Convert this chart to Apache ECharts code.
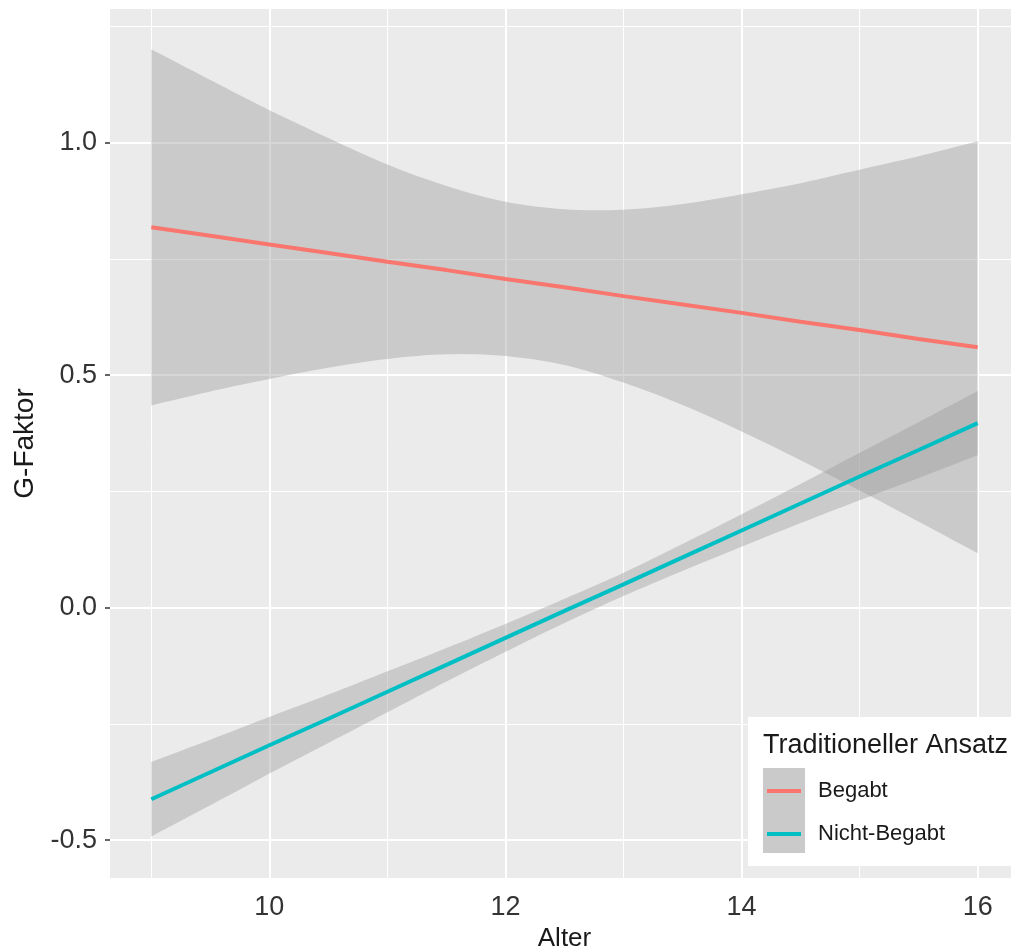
<!DOCTYPE html>
<html>
<head>
<meta charset="utf-8">
<script src="https://cdn.jsdelivr.net/npm/echarts@6/dist/echarts.min.js"></script>
<style>
html,body{margin:0;padding:0;background:#fff;}
#chart{width:1011px;height:947px;}
</style>
</head>
<body>
<div id="chart"></div>
<script>
// ---- data ----
var alter = [9, 9.5, 10, 10.5, 11, 11.5, 12, 12.5, 13, 13.5, 14, 14.5, 15, 15.5, 16];
var begabtFit   = [0.818, 0.800, 0.781, 0.763, 0.744, 0.726, 0.707, 0.689, 0.670, 0.652, 0.634, 0.615, 0.597, 0.578, 0.560];
var begabtUpper = [1.201, 1.135, 1.070, 1.010, 0.953, 0.907, 0.873, 0.857, 0.856, 0.868, 0.889, 0.913, 0.942, 0.971, 1.003];
var begabtLower = [0.435, 0.465, 0.492, 0.516, 0.535, 0.545, 0.541, 0.522, 0.484, 0.436, 0.379, 0.317, 0.252, 0.185, 0.117];
var nichtFit    = [-0.412, -0.354, -0.296, -0.239, -0.181, -0.123, -0.065, -0.007, 0.050, 0.108, 0.166, 0.224, 0.282, 0.339, 0.397];
var nichtUpper  = [-0.332, -0.284, -0.235, -0.187, -0.137, -0.087, -0.035, 0.019, 0.075, 0.137, 0.201, 0.266, 0.333, 0.399, 0.466];
var nichtLower  = [-0.492, -0.425, -0.357, -0.291, -0.225, -0.159, -0.095, -0.033, 0.025, 0.079, 0.131, 0.182, 0.231, 0.279, 0.328];
var xTicks = [10, 12, 14, 16];
var xMinor = [9, 11, 13, 15];
var yTicks = [-0.5, 0, 0.5, 1.0];
var yMinor = [-0.25, 0.25, 0.75, 1.25];
var groups = ['Begabt', 'Nicht-Begabt'];
var legendTitle = 'Traditioneller Ansatz';
var xTitle = 'Alter';
var yTitle = 'G-Faktor';

// ---- build ----
function pairs(xs, ys) { return xs.map(function (x, i) { return [x, ys[i]]; }); }
function bandRows(xs, lo, up) { return xs.map(function (x, i) { return [x, lo[i], up[i]]; }); }

var FONT = "'Liberation Sans', Arial, Helvetica, sans-serif";
var ribbonFill = 'rgba(153,153,153,0.4)';

var gridLines = [];
yTicks.forEach(function (v) { gridLines.push({ yAxis: v, lineStyle: { width: 2 } }); });
yMinor.forEach(function (v) { gridLines.push({ yAxis: v, lineStyle: { width: 1 } }); });
xTicks.forEach(function (v) { gridLines.push({ xAxis: v, lineStyle: { width: 2 } }); });
xMinor.forEach(function (v) { gridLines.push({ xAxis: v, lineStyle: { width: 1 } }); });

// smooth (Catmull-Rom) pass through pixel points, for rendering only
function smoothPts(p) {
  var out = [], n = p.length, steps = 8;
  for (var i = 0; i < n - 1; i++) {
    var p0 = p[Math.max(i - 1, 0)], p1 = p[i], p2 = p[i + 1], p3 = p[Math.min(i + 2, n - 1)];
    for (var s = 0; s < steps; s++) {
      var t = s / steps, t2 = t * t, t3 = t2 * t;
      var f = function (a, b, c, d) {
        return 0.5 * ((2 * b) + (-a + c) * t + (2 * a - 5 * b + 4 * c - d) * t2 + (-a + 3 * b - 3 * c + d) * t3);
      };
      out.push([f(p0[0], p1[0], p2[0], p3[0]), f(p0[1], p1[1], p2[1], p3[1])]);
    }
  }
  out.push(p[n - 1]);
  return out;
}
// ribbon polygon drawn through the axes (api.coord) from the band rows
function ribbonRenderer(rows) {
  return function (params, api) {
    if (params.dataIndex !== 0) return null;
    var up = [], lo = [];
    for (var i = 0; i < rows.length; i++) {
      up.push(api.coord([rows[i][0], rows[i][2]]));
      lo.push(api.coord([rows[i][0], rows[i][1]]));
    }
    var pts = smoothPts(up).concat(smoothPts(lo).reverse());
    return { type: 'polygon', shape: { points: pts }, style: { fill: ribbonFill } };
  };
}
var rowsB = bandRows(alter, begabtLower, begabtUpper);
var rowsN = bandRows(alter, nichtLower, nichtUpper);

var chart = echarts.init(document.getElementById('chart'));
var option = {
  animation: false,
  backgroundColor: '#ffffff',
  grid: {
    left: 110, top: 9, width: 909, height: 869,
    outerBoundsMode: 'none', containLabel: false,
    show: true, backgroundColor: '#EBEBEB', borderWidth: 0
  },
  xAxis: {
    type: 'value', min: 8.65, max: 16.35,
    name: xTitle, nameLocation: 'middle', nameGap: 47,
    nameTextStyle: { fontSize: 26, color: '#1a1a1a', fontFamily: FONT },
    axisLine: { show: false },
    axisTick: { show: true, customValues: xTicks, length: 5, lineStyle: { color: '#333', width: 1.5 } },
    axisLabel: { customValues: xTicks, fontSize: 27, color: '#333', fontFamily: FONT, margin: 16 },
    splitLine: { show: false }
  },
  yAxis: {
    type: 'value', min: -0.5815, max: 1.2876,
    name: yTitle, nameLocation: 'middle', nameGap: 68, nameRotate: 90,
    nameTextStyle: { fontSize: 28, color: '#1a1a1a', fontFamily: FONT },
    axisLine: { show: false },
    axisTick: { show: true, customValues: yTicks, length: 5, lineStyle: { color: '#333', width: 1.5 } },
    axisLabel: {
      customValues: yTicks, fontSize: 27, color: '#333', fontFamily: FONT, margin: 13,
      formatter: function (v) { return v.toFixed(1); }
    },
    splitLine: { show: false }
  },
  legend: {
    data: groups,
    orient: 'vertical',
    left: 767, top: 780, padding: 0,
    icon: 'rect', itemWidth: 34, itemHeight: 4, itemGap: 21,
    selectedMode: false,
    z: 6,
    textStyle: { fontSize: 22, color: '#1a1a1a', fontFamily: FONT, lineHeight: 22, padding: [0, 0, 0, 12] }
  },
  graphic: [
    { type: 'rect', z: 4, shape: { x: 748, y: 717, width: 280, height: 149 }, style: { fill: '#ffffff' } },
    { type: 'rect', z: 4, shape: { x: 763, y: 768, width: 42, height: 85 }, style: { fill: '#CACACA' } },
    { type: 'text', z: 4, x: 763, y: 746, style: { text: legendTitle, fontSize: 27, fill: '#1a1a1a', fontFamily: FONT, verticalAlign: 'middle' } }
  ],
  series: [
    {
      name: 'gridlines', type: 'line', z: 1, silent: true, data: [],
      markLine: { z: 1, silent: true, symbol: 'none', label: { show: false }, animation: false,
        lineStyle: { color: '#ffffff', type: 'solid' }, data: gridLines }
    },
    {
      name: 'bandB', type: 'custom', z: 2, silent: true, clip: true,
      data: rowsB, encode: { x: 0, y: [1, 2] }, renderItem: ribbonRenderer(rowsB)
    },
    {
      name: 'bandN', type: 'custom', z: 2, silent: true, clip: true,
      data: rowsN, encode: { x: 0, y: [1, 2] }, renderItem: ribbonRenderer(rowsN)
    },
    {
      name: groups[0], type: 'line', z: 3, data: pairs(alter, begabtFit), symbol: 'none',
      color: '#F8766D', lineStyle: { color: '#F8766D', width: 4 }
    },
    {
      name: groups[1], type: 'line', z: 3, data: pairs(alter, nichtFit), symbol: 'none',
      color: '#00BFC4', lineStyle: { color: '#00BFC4', width: 4 }
    }
  ]
};
chart.setOption(option);
</script>
</body>
</html>
